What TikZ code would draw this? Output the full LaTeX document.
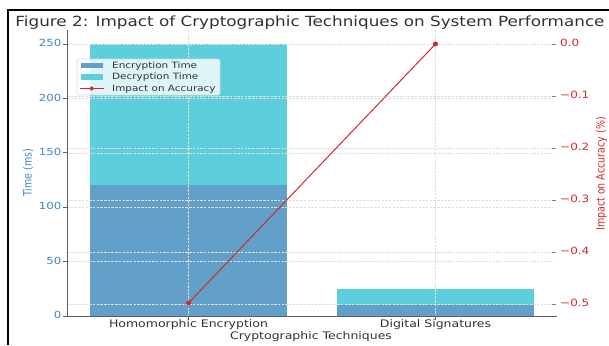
\documentclass[tikz,border=0pt]{standalone}
\usepackage{fontspec}
\setmainfont{DejaVu Sans}[FakeStretch=1.2]
\newfontfamily\rotfont{DejaVu Sans}
\definecolor{encblue}{RGB}{98,159,201}
\definecolor{deccyan}{RGB}{93,206,219}
\definecolor{timeblue}{RGB}{66,133,192}
\definecolor{accred}{RGB}{214,39,40}
\definecolor{gridgray}{RGB}{222,222,222}
\definecolor{spinegray}{RGB}{95,95,95}
\definecolor{textgray}{RGB}{50,50,50}

\begin{document}
\begin{tikzpicture}[x=1pt, y=-1pt,
  gridline/.style={gridgray, line width=0.5pt, dash pattern=on 2.5pt off 1.2pt},
  spine/.style={spinegray, line width=1pt},
  tickmark/.style={spinegray, line width=0.8pt},
  lefttick/.style={timeblue, font=\fontsize{9.8}{10}\selectfont, anchor=mid east, inner sep=0},
  righttick/.style={accred, font=\fontsize{10}{10}\selectfont, anchor=mid west, inner sep=0},
  catlabel/.style={textgray, font=\fontsize{10.4}{11}\selectfont, anchor=base, inner sep=0},
  legtext/.style={textgray, font=\fontsize{8.7}{9}\selectfont, anchor=mid west, inner sep=0},
  axtitle/.style={rotate=90, inner sep=0, font=\rotfont\fontsize{9.5}{10}\selectfont},
  marker/.style={circle, fill=accred, inner sep=0, minimum size=5pt}
]
\useasboundingbox (0,0) rectangle (609,345);
\fill[white] (0,0) rectangle (609,345);

% outer frame
\draw[black, line width=1.8pt] (8,345) -- (8,10) -- (609,10);

% title
\node[anchor=base, inner sep=0, textgray, font=\fontsize{14}{15}\selectfont] (title) at (310,27)
  {Figure 2: Impact of Cryptographic Techniques on System Performance};

% stacked bars: y = 316 - 1.088 * value
\fill[encblue] (90,316) rectangle (287,185.44);
\fill[deccyan] (90,185.44) rectangle (287,44);
\fill[encblue] (337,316) rectangle (534,305.12);
\fill[deccyan] (337,305.12) rectangle (534,288.8);

% grid of the time axis
\foreach \yy in {44,98.4,152.8,207.2,261.6}
  \draw[gridline] (67,\yy) -- (552,\yy);
% grid of the accuracy axis
\foreach \yy in {44,96,148,200,252,304}
  \draw[gridline] (67,\yy) -- (552,\yy);
% category grid
\foreach \xx in {188.5,435.5}
  \draw[gridline] (\xx,30) -- (\xx,316);

% spines
\draw[spine] (67,30) -- (67,316) -- (557,316);

% time axis ticks
\foreach \v/\yy in {0/316,50/261.6,100/207.2,150/152.8,200/98.4,250/44}{
  \draw[tickmark] (63,\yy) -- (67,\yy);
  \node[lefttick] (t\v) at (61.5,\yy) {\v};
}
% accuracy axis ticks
\foreach \n/\lab/\yy in {0/0.0/44,1/−0.1/96,2/−0.2/148,3/−0.3/200,4/−0.4/252,5/−0.5/304}{
  \draw[tickmark, gray] (552,\yy) -- (556,\yy);
  \node[righttick] (a\n) at (560,\yy) {\lab};
}
% category ticks and labels
\draw[tickmark] (188.5,316) -- (188.5,319.5);
\draw[tickmark] (435.5,316) -- (435.5,319.5);
\node[catlabel] (he) at (188.5,327.5) {Homomorphic Encryption};
\node[catlabel] (ds) at (435.5,327.5) {Digital Signatures};
\node[catlabel] (xlab) at (311,339.5) {Cryptographic Techniques};

% axis titles
\node[axtitle, timeblue] (ylab) at (28,173) {\scalebox{1}[1.2]{Time (ms)}};
\node[axtitle, accred] (y2lab) at (601.5,174) {\scalebox{1}[1.2]{Impact on Accuracy (\%)}};

% accuracy line
\node[marker] (m1) at (188.5,303) {};
\node[marker] (m2) at (435.5,44) {};
\draw[accred, line width=1pt] (m1.center) -- (m2.center);

% legend
\draw[rounded corners=2pt, fill=white, fill opacity=0.8, draw=gray!30, line width=0.6pt] (77,59) rectangle (220,95);
\fill[encblue] (81,62.5) rectangle (102.5,68);
\node[legtext] (l1) at (112,65.5) {Encryption Time};
\fill[deccyan] (81,74) rectangle (102.5,79.5);
\node[legtext] (l2) at (112,77) {Decryption Time};
\coordinate (lk1) at (80,88.5);
\coordinate (lk2) at (103.5,88.5);
\draw[accred, line width=1pt] (lk1) -- (lk2);
\node[marker, minimum size=4pt] (lm) at (91.75,88.5) {};
\node[legtext] (l3) at (112,88.5) {Impact on Accuracy};
\end{tikzpicture}
\end{document}
